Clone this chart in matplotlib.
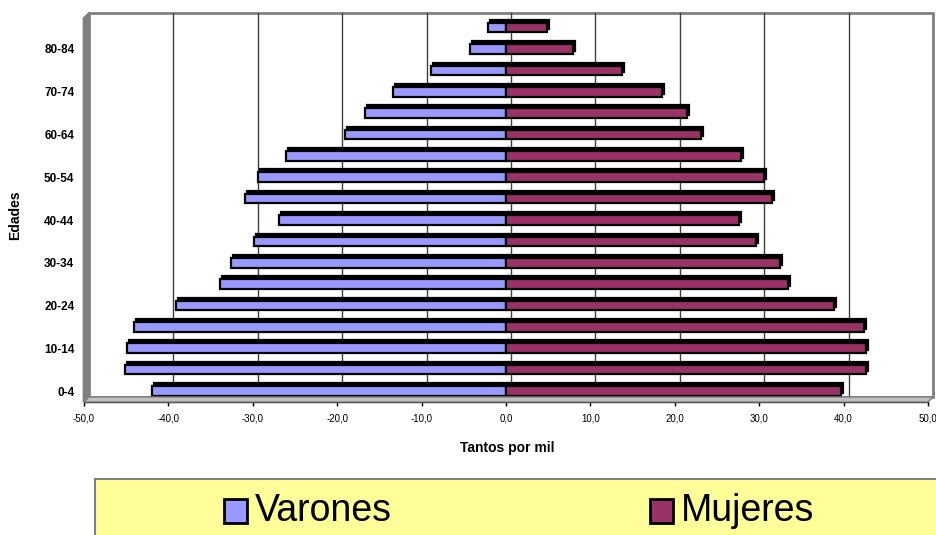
import numpy as np
import matplotlib
matplotlib.use('Agg')
import matplotlib.pyplot as plt
from matplotlib.patches import Rectangle, Polygon
from matplotlib.transforms import ScaledTranslation
from matplotlib.ticker import FuncFormatter

plt.rcParams['font.family'] = ['Liberation Sans', 'DejaVu Sans']

# ---- data (tantos por mil) ----
edades = ['0-4', '5-9', '10-14', '15-19', '20-24', '25-29', '30-34', '35-39',
          '40-44', '45-49', '50-54', '55-59', '60-64', '65-69', '70-74',
          '75-79', '80-84', '85+']
varones = [-41.9, -45.1, -44.9, -44.1, -39.1, -33.9, -32.6, -29.9, -26.9,
           -30.9, -29.4, -26.1, -19.1, -16.7, -13.4, -8.9, -4.3, -2.1]
mujeres = [39.7, 42.6, 42.6, 42.4, 38.9, 33.4, 32.5, 29.6, 27.6,
           31.5, 30.6, 27.8, 23.1, 21.4, 18.5, 13.8, 7.9, 4.9]
x_ticks = np.arange(-50, 51, 10)

c_var = '#9999FF'
c_muj = '#993366'

W, H = 936, 535
fig = plt.figure(figsize=(W / 100, H / 100), dpi=100)

def fx(px):
    return px / W

def fy(py):
    return 1 - py / H

# front plane of the 3D box
left, right, top, bottom = 84, 928, 18, 402
ax = fig.add_axes([fx(left), fy(bottom), fx(right - left), (bottom - top) / H])
ax.set_xlim(-50, 50)
ax.set_ylim(-0.514, 17.45)
ax.patch.set_alpha(0)

# 3D depth offset (back wall shifted up-right)
depth = ScaledTranslation(5 / 100, 5 / 100, fig.dpi_scale_trans)

# back wall border
ax.add_patch(Rectangle((0, 0), 1, 1, transform=ax.transAxes + depth,
                       fill=False, edgecolor='#808080', lw=2, zorder=0.5,
                       clip_on=False))
# left wall and floor
fig.patches.append(Polygon([(fx(83), fy(402)), (fx(83), fy(18)), (fx(89), fy(12)), (fx(89), fy(397))],
                           closed=True, transform=fig.transFigure,
                           facecolor='#808080', edgecolor='#808080', lw=0.5, zorder=0))
fig.patches.append(Polygon([(fx(84), fy(402)), (fx(928), fy(402)), (fx(933), fy(397)), (fx(89), fy(397))],
                           closed=True, transform=fig.transFigure,
                           facecolor='#C0C0C0', edgecolor='#808080', lw=1, zorder=0))

# gridlines on the back wall
for v in x_ticks[1:-1]:
    ax.plot([v, v], [0, 1], transform=ax.get_xaxis_transform() + depth,
            color='#404040', lw=1, zorder=1, clip_on=False)

y = np.arange(len(edades))
h = 0.45
bar_depth = ScaledTranslation(2 / 100, 3 / 100, fig.dpi_scale_trans)

# dark depth faces of the bars
ax.barh(y, varones, height=h, color='black', edgecolor='black', lw=1.6,
        transform=ax.transData + bar_depth, zorder=2)
ax.barh(y, mujeres, height=h, color='black', edgecolor='black', lw=1.6,
        transform=ax.transData + bar_depth, zorder=2)
# front faces
ax.barh(y, varones, height=h, color=c_var, edgecolor='black', lw=1.6, zorder=3)
ax.barh(y, mujeres, height=h, color=c_muj, edgecolor='black', lw=1.6, zorder=3)

# axes formatting
for s in ['top', 'right', 'left']:
    ax.spines[s].set_visible(False)
ax.spines['bottom'].set_color('black')
ax.spines['bottom'].set_linewidth(1)
ax.set_xticks(x_ticks)
ax.xaxis.set_major_formatter(FuncFormatter(lambda v, p: f'{v:.1f}'.replace('.', ',')))
ax.tick_params(axis='x', direction='out', length=3, width=1, pad=5, labelsize=7)
ax.set_yticks(y[::2])
ax.set_yticklabels(edades[::2], fontweight='bold', fontsize=8.5)
ax.tick_params(axis='y', length=0, pad=7)

fig.text(fx(507), fy(448), 'Tantos por mil', ha='center', va='center',
         fontsize=10, fontweight='bold')
fig.text(fx(15), fy(215), 'Edades', ha='center', va='center', rotation=90,
         fontsize=10, fontweight='bold')

# legend box
fig.patches.append(Rectangle((fx(95), fy(540)), fx(850), (540 - 479) / H,
                             transform=fig.transFigure, facecolor='#FFFF99',
                             edgecolor='#808080', lw=1.5, zorder=0))
for sx, col, lab in [(224, c_var, 'Varones'), (650, c_muj, 'Mujeres')]:
    fig.patches.append(Rectangle((fx(sx), fy(523)), fx(23), 24 / H,
                                 transform=fig.transFigure, facecolor=col,
                                 edgecolor='black', lw=2, zorder=1))
    fig.text(fx(sx + 31), fy(511), lab, ha='left', va='center', fontsize=27)

plt.savefig('out.png', dpi=100)
